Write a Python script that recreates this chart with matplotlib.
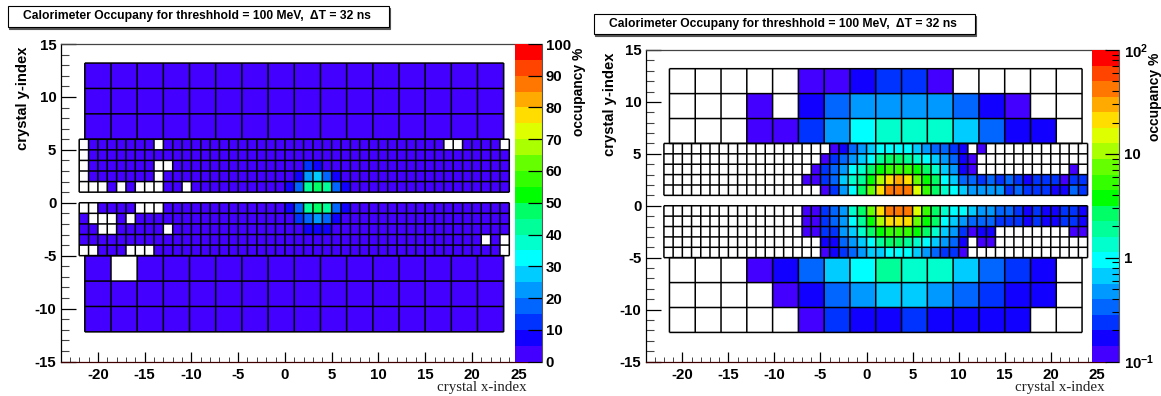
import numpy as np
import matplotlib
matplotlib.use("Agg")
import matplotlib.pyplot as plt
from matplotlib.colors import ListedColormap, BoundaryNorm
from matplotlib.patches import Rectangle
from matplotlib.ticker import FixedLocator, NullFormatter

W = np.nan  # empty crystal, stays white

#######################################
###########Values####
#######################################

palette = ['#4400ff', '#1100ff', '#0033ff', '#0066ff', '#0099ff', '#00ccff', '#00ffff',
           '#00ffcc', '#00ff99', '#00ff66', '#00ff00', '#33ff00', '#66ff00', '#aaff00',
           '#ddff00', '#ffdd00', '#ffaa00', '#ff7700', '#ff4400', '#ff0000']

# rows go from top to bottom
lin_top_big = [[2]*16, [2]*16, [2]*16]
lin_top_small = [
    [W] + [2]*7 + [W] + [2]*30 + [W, W] + [2]*4 + [W],
    [W] + [2]*45,
    [W] + [2]*7 + [W, W] + [2]*14 + [12, 7.5] + [2]*20,
    [W] + [2]*7 + [W] + [2]*14 + [7.5, 22, 27, 17, 7.5] + [2]*18,
    [W, W, W, 2, W, 2, W, W, W, 2, 2, W] + [2]*10 + [7.5, 17, 42, 47, 42, 17, 7.5] + [2]*17,
]
lin_bot_small = [
    [W, W, 2, 2, 2, 2, W, W, W] + [2]*13 + [7.5, 17, 42, 47, 42, 17, 7.5] + [2]*17,
    [2, W, W, W, 2, W] + [2]*17 + [12, 17, 22, 17, 7.5] + [2]*18,
    [2, 2, W, W] + [2]*5 + [W] + [2]*14 + [7.5, 7.5, 7.5] + [2]*19,
    [2]*43 + [W, 2, W],
    [W, W, 2, 2, 2, W, W, W] + [2]*37 + [W],
]
lin_bot_big = [[2, W] + [2]*14, [2]*16, [2]*16]

log_top_big = [
    [W, W, W, W, W, .12, .12, .17, .24, .24, .12, W, W, W, W, W],
    [W, W, W, .12, W, .17, .33, .47, .47, .47, .47, .33, .17, .12, W, W],
    [W, W, W, .12, .12, .24, .47, .94, 1.3, 1.3, 1.3, .67, .33, .17, .17, W],
]
log_top_small = [
    [W]*18 + [.12, .17, .33, .47, .67, .94, .94, .94, .94, .67, .47, .33, .33, .24, .17, W, .12] + [W]*11,
    [W]*17 + [.12, .24, .33, .47, .67, .94, 1.9, 2.7, 2.7, 1.9, 1.3, .94, .67, .47, .33, .17, .12] + [W]*12,
    [W]*16 + [.12, .24, .33, .47, .94, 1.3, 2.7, 3.8, 5.3, 5.3, 5.3, 3.8, 2.7, 1.3, .67, .47, .17, .12] + [W]*10 + [.12, W],
    [W]*15 + [.12, .12, .24, .33, .67, 1.3, 1.9, 3.8, 11, 21, 30, 21, 7.5, 3.8, 2.7, .94, .67, .33, .33,
              .24, .33, .24, .33, .24, .17, .24, .24, .24, .12, .24, .24],
    [W]*17 + [.12, .24, .47, .94, 2.7, 7.5, 21, 42, 42, 42, 15, 5.3, 2.7, 1.3, .94, .67, .47, .47, .47,
              .47, .24, .33, .24, .24, .24, .17, .17, .33, .24],
]
log_bot_small = [
    [W]*15 + [.12, .12, .24, .33, .47, 1.3, 2.7, 7.5, 21, 42, 42, 42, 15, 5.3, 2.7, 1.3, .94, .94, .67,
              .47, .47, .33, .33, .24, .17, .24, .17, .17, .24, .24, .17],
    [W]*15 + [.12, .12, .24, .33, .47, .94, 1.9, 3.8, 11, 21, 21, 21, 7.5, 3.8, 2.7, .94, .67, .47, .33,
              .33, .33, .24, .24, .24, .17, .24, .17, .17, .24, .24, .17],
    [W]*15 + [.12, .12, .24, .24, .47, .67, 1.3, 2.7, 3.8, 5.3, 5.3, 5.3, 3.8, 2.7, 1.3, .67, .47, .24,
              .12, .17, .17] + [W]*8 + [.12, .12],
    [W]*17 + [.17, .17, .33, .47, .67, .94, 1.9, 2.7, 2.7, 1.9, 1.3, .94, .67, .47, .33, .17, W, .12, .12] + [W]*10,
    [W]*17 + [.12, .17, .24, .33, .47, .67, .67, .94, .94, .94, .67, .47, .33, .24, .24, .12] + [W]*13,
]
log_bot_big = [
    [W, W, W, .12, .17, .33, .67, .94, 1.9, 1.3, 1.3, .67, .33, .24, .17, W],
    [W, W, W, W, .12, .17, .33, .47, .67, .67, .47, .33, .24, .17, .17, W],
    [W, W, W, W, W, .12, .24, .17, .17, .24, .17, .17, .17, .17, W, W],
]

lin_levels = np.linspace(0, 100, 21)
log_levels = 10**np.linspace(-1, 2, 21)

x_ticks = [-20, -15, -10, -5, 0, 5, 10, 15, 20, 25]
y_ticks = [-15, -10, -5, 0, 5, 10, 15]
title_txt = "Calorimeter Occupany for threshhold = 100 MeV,  \u0394T = 32 ns"

#######################################
###########Drawing part of code########
#######################################

FW, FH = 1161.0, 396.0
plt.rcParams['font.family'] = ['Liberation Sans', 'DejaVu Sans']
plt.rcParams['font.weight'] = 'bold'
plt.rcParams['axes.unicode_minus'] = False
plt.rcParams['mathtext.fontset'] = 'custom'
plt.rcParams['mathtext.rm'] = 'Liberation Sans:bold'
plt.rcParams['mathtext.bf'] = 'Liberation Sans:bold'
plt.rcParams['mathtext.default'] = 'rm'

fig = plt.figure(figsize=(FW/100, FH/100), dpi=100)
cmap = ListedColormap(palette)
cmap.set_under('white')


def px_axes(left, top, right, bottom, **kw):
    return fig.add_axes([left/FW, 1-bottom/FH, (right-left)/FW, (bottom-top)/FH], **kw)


def cells(ax, xe, ye, rows, norm):
    vals = np.nan_to_num(np.array(rows, dtype=float), nan=-1.0)  # nan -> below range -> white
    ax.pcolormesh(xe, ye, vals, cmap=cmap, norm=norm)
    # outlines drawn on their own, pcolormesh edges drop out at thin widths
    v = ax.vlines(xe, min(ye), max(ye), color='k', linewidth=1.1, zorder=2)
    h = ax.hlines(ye, min(xe), max(xe), color='k', linewidth=1.1, zorder=2)
    v.set_snap(False)
    h.set_snap(False)


def panel(left, top, right, bottom, levels, rows, box, ylab_x, zlab, zlab_y, cb_left, cb_right):
    norm = BoundaryNorm(levels, 20)
    ax = px_axes(left, top, right, bottom)
    big_x = np.linspace(-21.4, 23.4, 17)
    small_x = np.arange(-22, 25)
    cells(ax, big_x, [13.2, 10.8, 8.4, 6.0], rows[0], norm)
    cells(ax, big_x, [-5, -7.4, -9.8, -12.2], rows[3], norm)
    cells(ax, small_x, [6, 5, 4, 3, 2, 1], rows[1], norm)
    cells(ax, small_x, [0, -1, -2, -3, -4, -5], rows[2], norm)
    ax.set_xlim(-24, 26)
    ax.set_ylim(-15, 15)
    ax.set_xticks(x_ticks)
    ax.set_yticks(y_ticks)
    ax.set_xticks(np.arange(-23, 26), minor=True)
    ax.set_yticks(np.arange(-15, 16), minor=True)
    ax.tick_params(which='major', direction='in', labelsize=10.8, width=0.9, pad=3)
    ax.tick_params(axis='x', which='major', length=7.5, pad=5)
    ax.tick_params(axis='y', which='major', length=11)
    ax.tick_params(axis='x', which='minor', direction='in', length=3.6, width=0.7, color='#444444')
    ax.tick_params(axis='y', which='minor', direction='in', length=5.8, width=0.8, color='#444444')
    ax.spines['right'].set_visible(False)
    ax.spines['top'].set_color('#444444')
    ax.spines['bottom'].set_color('#400000')
    for s in ax.spines.values():
        s.set_linewidth(0.9)

    # palette on top of the right part of the frame
    cax = px_axes(cb_left, top, cb_right, bottom, zorder=5)
    mids = (levels[:-1]+levels[1:])/2
    cax.pcolormesh([0, 1], levels, mids[:, None], cmap=cmap, norm=norm)
    cax.set_xticks([])
    cax.yaxis.tick_right()
    cax.set_ylim(levels[0], levels[-1])
    for name in ['left', 'top', 'bottom']:
        cax.spines[name].set_visible(False)
    cax.spines['right'].set_color('#555555')

    # title box with its shadow
    x0, y0, x1, y1 = box
    fig.add_artist(Rectangle((x0/FW+0.0012, 1-(y1+1.5)/FH), (x1-x0)/FW, (y1-y0)/FH,
                             transform=fig.transFigure, fc='#555555', ec='#555555', lw=0.8))
    fig.add_artist(Rectangle((x0/FW, 1-y1/FH), (x1-x0)/FW, (y1-y0)/FH,
                             transform=fig.transFigure, fc='white', ec='black', lw=0.8))
    fig.text((x0+15)/FW, 1-(y0+y1)/2/FH, title_txt, fontsize=8.7, va='center', ha='left')

    fig.text(ylab_x/FW, 1-(top+54)/FH, "crystal y-index", rotation=90, fontsize=10.6,
             va='center', ha='center')
    fig.text((cb_left+63.5)/FW, 1-zlab_y/FH, zlab, rotation=90, fontsize=10,
             va='center', ha='center')
    fig.text((right-1.5)/FW, 1-387/FH, "crystal x-index", fontsize=10.8, ha='right', va='center',
             family='Liberation Serif', weight='normal', color='#222222')
    return ax, cax


ax1, cax1 = panel(60.5, 44, 528, 361.5, lin_levels,
                  [lin_top_big, lin_top_small, lin_bot_small, lin_bot_big],
                  (8, 6, 389, 27), 23, "occupancy %", 92, 515, 541.5)
cax1.set_yticks(np.arange(0, 101, 10))
cax1.tick_params(axis='y', direction='in', length=10, width=0.9, labelsize=10.8, pad=3)

ax2, cax2 = panel(645.5, 50, 1106, 361.5, log_levels,
                  [log_top_big, log_top_small, log_bot_small, log_bot_big],
                  (594, 14, 975, 34), 610, "occupancy %", 97, 1092, 1118.5)
cax2.set_yscale('log')
cax2.set_ylim(0.1, 100)
cax2.set_yticks([0.1, 1, 10, 100])
cax2.set_yticklabels(['$10^{-1}$', '1', '10', '$10^{2}$'])
minors = [m*d for d in [0.1, 1, 10] for m in range(2, 10)]
cax2.yaxis.set_minor_locator(FixedLocator(minors))
cax2.yaxis.set_minor_formatter(NullFormatter())
cax2.tick_params(axis='y', which='major', direction='in', length=10, width=0.9, labelsize=10.8, pad=4)
cax2.tick_params(axis='y', which='minor', direction='in', length=5, width=0.8)

fig.savefig("out.png", dpi=100)
